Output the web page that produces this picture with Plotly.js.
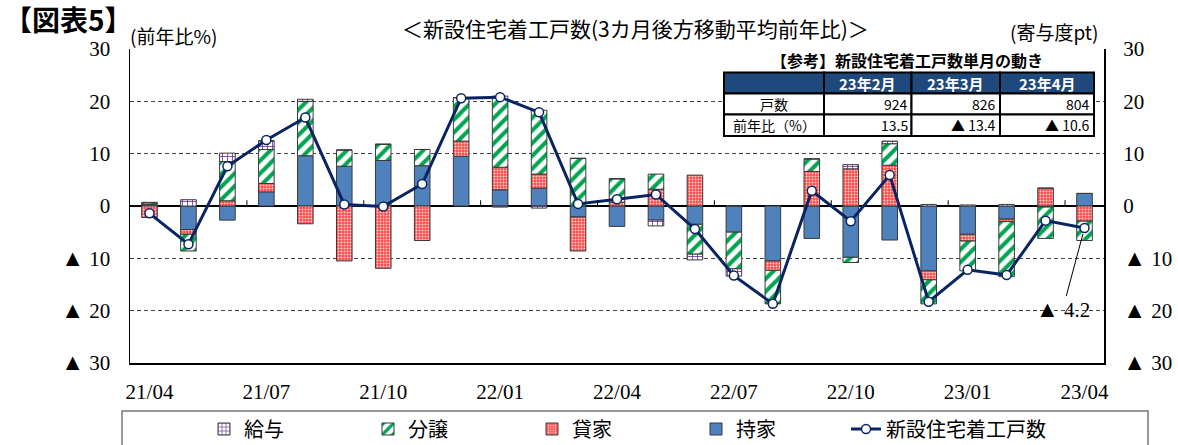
<!DOCTYPE html>
<html><head><meta charset="utf-8">
<script src="https://cdn.plot.ly/plotly-3.0.1.min.js"></script>
<style>html,body{margin:0;padding:0;background:#fff}#chart{width:1178px;height:445px}</style>
</head><body><div id="chart"></div>
<script>
const months = ['21/04','21/05','21/06','21/07','21/08','21/09','21/10','21/11','21/12','22/01','22/02','22/03','22/04','22/05','22/06','22/07','22/08','22/09','22/10','22/11','22/12','23/01','23/02','23/03','23/04'];
const labelMonths = ['21/04','21/07','21/10','22/01','22/04','22/07','22/10','23/01','23/04'];
const mochiie = [0.3,-4.5,-2.7,2.7,9.6,7.6,8.7,7.7,9.5,3.1,3.4,-2.1,-3.9,-2.7,-3.5,-5.0,-10.5,-6.2,-9.8,-6.5,-12.4,-5.4,-2.5,-0.2,2.4];
const kashiya = [-2.2,-0.9,1.0,1.6,-3.4,-10.5,-11.9,-6.6,2.9,4.3,2.7,-6.5,0.7,3.2,5.9,0.0,-1.8,6.6,7.1,7.8,-1.7,-1.3,-0.5,3.4,-2.9];
const bunjo = [0.3,-3.2,7.5,6.5,10.4,3.1,3.1,3.1,8.3,13.6,12.2,9.1,4.5,2.9,-5.7,-7.0,-6.3,2.4,-1.0,4.1,-4.6,-5.7,-10.5,-6.0,-3.7];
const kyuyo = [0.1,1.2,1.6,1.7,0.4,0,0,0,0,-0.2,-0.4,0,0,-1.1,-1.1,-1.4,-0.1,0,0.8,0.5,0.3,0.2,0.3,0,0];
const total = [-1.4,-7.3,7.6,12.6,16.9,0.3,-0.1,4.2,20.6,20.8,17.9,0.4,1.3,2.2,-4.4,-13.3,-18.7,2.9,-2.9,5.9,-18.3,-12.2,-13.2,-2.8,-4.2];
const yTickVals = [-30,-20,-10,0,10,20,30];
const yTickText = ['▲ 30','▲ 20','▲ 10','0','10','20','30'];
const tableMonths = ['23年2月','23年3月','23年4月'];
const tableCounts = [924,826,804];
const tableYoY = [13.5,-13.4,-10.6];
const tableRows = ['戸数','前年比（%）'];

const fmt = v => v < 0 ? '▲ ' + Math.abs(v).toFixed(1) : v.toFixed(1);
const bigTri = s => s.replace('▲', '<span style="font-size:23px">▲</span>');
const serif = 'Liberation Serif, DejaVu Serif, serif';
const sans = 'Noto Sans CJK JP, sans-serif';
const outline = {color:'#3a3a3a', width:1};

// plot area in pixels (for paper-coordinate placement of decorations)
const PL = 130, PR = 1104, PT = 49, PB = 363;
const px = v => (v - PL) / (PR - PL);
const py = v => (PB - v) / (PB - PT);

const traces = [
  {type:'bar', name:'持家', x:months, y:mochiie, legendrank:4,
   marker:{color:'#4F81BD', line:outline}},
  {type:'bar', name:'貸家', x:months, y:kashiya, legendrank:3,
   marker:{color:'#FF5050', line:outline, pattern:{shape:'.', fgcolor:'#FFD6D6', bgcolor:'#FF4A4A', size:3, solidity:0.35}}},
  {type:'bar', name:'分譲', x:months, y:bunjo, legendrank:2,
   marker:{color:'#00A550', line:outline, pattern:{shape:'/', fgcolor:'#00A550', bgcolor:'#FFFFFF', size:9, solidity:0.45}}},
  {type:'bar', name:'給与', x:months, y:kyuyo, legendrank:1,
   marker:{color:'#7030A0', line:outline, pattern:{shape:'+', fgcolor:'#7030A0', bgcolor:'#FFFFFF', size:5, solidity:0.3}}},
  {type:'scatter', mode:'lines+markers', name:'新設住宅着工戸数', x:months, y:total, yaxis:'y2', legend:'legend2',
   line:{color:'#0A2463', width:3},
   marker:{symbol:'circle', size:9, color:'#FFFFFF', line:{color:'#0A2463', width:1.5}}}
];

const shapes = [
  {type:'rect', xref:'paper', yref:'paper', x0:px(122), x1:px(1148), y0:py(450), y1:py(411),
   line:{color:'#777', width:1.5}, fillcolor:'rgba(0,0,0,0)'}
];
months.forEach((m,i)=>{ if((i+1)%3===0 && i<months.length-1){
  shapes.push({type:'line', xref:'x', yref:'y', x0:i+0.5, x1:i+0.5, y0:0, y1:1.1, line:{color:'#000', width:1}});
}});

// reference table built from the table arrays
const colEdges = [724, 824, 911.5, 1000, 1094];
const rowEdges = [72.5, 93.5, 114.5, 136];
const cellFont = 14;
const annotations = [];
for(let r=0; r<3; r++){
  for(let c=0; c<4; c++){
    shapes.push({type:'rect', xref:'paper', yref:'paper', layer:'above',
      x0:px(colEdges[c]), x1:px(colEdges[c+1]), y0:py(rowEdges[r+1]), y1:py(rowEdges[r]),
      fillcolor: r===0 ? '#1F497D' : '#FFFFFF', line:{color:'#000', width:2}});
  }
}
tableMonths.forEach((m,i)=>{
  annotations.push({xref:'paper', yref:'paper', x:px((colEdges[i+1]+colEdges[i+2])/2), y:py((rowEdges[0]+rowEdges[1])/2),
    xanchor:'center', yanchor:'middle', showarrow:false, text:m, borderpad:0,
    font:{family:sans, size:cellFont+1, color:'#FFFFFF', weight:'bold'}});
});
const rowVals = [tableCounts.map(String), tableYoY.map(fmt)];
tableRows.forEach((lab,r)=>{
  const yc = py((rowEdges[r+1]+rowEdges[r+2])/2);
  annotations.push({xref:'paper', yref:'paper', x:px((colEdges[0]+colEdges[1])/2), y:yc, borderpad:0,
    xanchor:'center', yanchor:'middle', showarrow:false, text:lab, font:{family:sans, size:cellFont, color:'#000'}});
  rowVals[r].forEach((v,i)=>{
    annotations.push({xref:'paper', yref:'paper', x:px(colEdges[i+2]-3), y:yc, borderpad:0,
      xanchor:'right', yanchor:'middle', showarrow:false, text:v, font:{family:sans, size:cellFont, color:'#000'}});
  });
});

annotations.push(
  {xref:'paper', yref:'paper', x:px(2), y:py(19), xanchor:'left', yanchor:'middle', showarrow:false,
   text:'【図表5】', font:{family:sans, size:28, color:'#000', weight:'bold'}},
  {xref:'paper', yref:'paper', x:px(128), y:py(36), xanchor:'left', yanchor:'middle', showarrow:false,
   text:'(前年比%)', font:{family:sans, size:19, color:'#000'}},
  {xref:'paper', yref:'paper', x:px(1100), y:py(31), xanchor:'right', yanchor:'middle', showarrow:false,
   text:'(寄与度pt)', font:{family:sans, size:19, color:'#000'}},
  {xref:'paper', yref:'paper', x:px(635), y:py(28), xanchor:'center', yanchor:'middle', showarrow:false,
   text:'＜新設住宅着工戸数(3カ月後方移動平均前年比)＞', font:{family:sans, size:21, color:'#000'}},
  {xref:'paper', yref:'paper', x:px(907), y:py(60), xanchor:'center', yanchor:'middle', showarrow:false,
   borderpad:0,
   text:'【参考】新設住宅着工戸数単月の動き', font:{family:sans, size:16, color:'#000', weight:'bold'}},
  {x:months[months.length-1], y:total[total.length-1], xref:'x', yref:'y',
   text:bigTri(fmt(total[total.length-1])), showarrow:true, arrowhead:0, arrowwidth:1, arrowcolor:'#000',
   ax:-22, ay:82, standoff:6, font:{family:serif, size:21, color:'#000'}}
);

const tickText = yTickText.map(bigTri);
const yCommon = {range:[-30,30], tickmode:'array', tickvals:yTickVals, ticktext:tickText,
    ticks:'outside', ticklen:14, tickcolor:'rgba(0,0,0,0)',
    tickfont:{family:serif, size:21, color:'#000'}, automargin:false, fixedrange:true};

const legendFont = {family:sans, size:20, color:'#000'};
const layout = {
  width:1178, height:445,
  margin:{l:PL, r:1178-PR, t:PT, b:445-PB},
  paper_bgcolor:'#fff', plot_bgcolor:'#fff',
  barmode:'relative', bargap:0.6,
  showlegend:true,
  legend:{orientation:'h', xref:'container', yref:'container', x:204/1178, xanchor:'left', y:(445-429)/445, yanchor:'middle',
    font:legendFont, entrywidth:119, itemwidth:30, bgcolor:'rgba(0,0,0,0)'},
  legend2:{orientation:'h', xref:'container', yref:'container', x:846/1178, xanchor:'left', y:(445-429)/445, yanchor:'middle',
    font:legendFont, itemwidth:30, bgcolor:'rgba(0,0,0,0)'},
  xaxis:{type:'category', range:[-0.5,24.5], tickmode:'array', tickvals:labelMonths, ticktext:labelMonths,
    showgrid:false, zeroline:false, showline:true, linecolor:'#000', linewidth:1.5,
    ticks:'outside', ticklen:9, tickcolor:'rgba(0,0,0,0)',
    tickfont:{family:serif, size:21, color:'#000'}, automargin:false, fixedrange:true},
  yaxis:Object.assign({}, yCommon, {
    showgrid:true, gridcolor:'#444', griddash:'4px,3px', gridwidth:1,
    zeroline:true, zerolinecolor:'#000', zerolinewidth:1.5,
    showline:true, linecolor:'#000', linewidth:1.5, mirror:true}),
  yaxis2:Object.assign({}, yCommon, {overlaying:'y', side:'right', showgrid:false, zeroline:false, showline:false}),
  shapes:shapes,
  annotations:annotations
};
Plotly.newPlot('chart', traces, layout, {displayModeBar:false, staticPlot:true});
</script></body></html>
